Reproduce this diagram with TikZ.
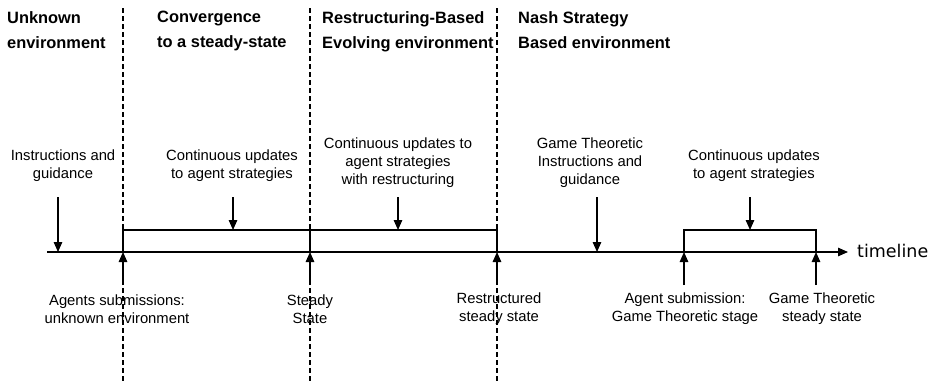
\documentclass[tikz,border=0pt]{standalone}
\usepackage{fontspec}
\setmainfont{Liberation Sans}
\newfontfamily\tlfont{DejaVu Sans}
\usetikzlibrary{arrows.meta}
\begin{document}
\begin{tikzpicture}[x=1pt,y=-1pt,
  line/.style={line width=1.3pt},
  tip/.style={-{Triangle[length=10pt,width=8.5pt]}},
  phase/.style={dash pattern=on 5pt off 3pt, line width=1.2pt},
  lbl/.style={align=center, inner sep=0pt, font=\fontsize{14.8}{18}\selectfont},
  head/.style={align=left, inner sep=0pt, anchor=north west, font=\fontsize{16.4}{25}\selectfont\bfseries}]
\useasboundingbox (0,0) rectangle (936,383);

% phase boundaries
\coordinate (p1top) at (123,8);   \coordinate (p1bot) at (123,383);
\coordinate (p2top) at (310,8);   \coordinate (p2bot) at (310,383);
\coordinate (p3top) at (497,8);   \coordinate (p3bot) at (497,383);
\draw[phase] (p1top) -- (p1bot);
\draw[phase] (p2top) -- (p2bot);
\draw[phase] (p3top) -- (p3bot);

% phase headings
\node[head] (h0) at (7,11)   {Unknown\\environment};
\node[head] (h1) at (157,11) {Convergence\\to a steady-state};
\node[head] (h2) at (322,11) {Restructuring-Based\\Evolving environment};
\node[head] (h3) at (518,11) {Nash Strategy\\Based environment};

% timeline
\coordinate (tlstart) at (47,252);
\coordinate (tlend) at (848,252);
\draw[line,tip] (tlstart) -- (tlend);
\node[anchor=west, inner sep=0pt, font=\tlfont\fontsize{17.5}{20}\selectfont] (tl) at (857,251) {timeline};

% events on the timeline
\coordinate (t1) at (123,252);
\coordinate (t2) at (310,252);
\coordinate (t3) at (497,252);
\coordinate (t4) at (684,252);
\coordinate (t5) at (816,252);
\coordinate (g0) at (58,252);
\coordinate (g1) at (597,252);

% update brackets
\coordinate (b1) at (123,230);
\coordinate (b2) at (310,230);
\coordinate (b3) at (497,230);
\coordinate (b4) at (684,230);
\coordinate (b5) at (816,230);
\draw[line] (t1) -- (b1) -- (b3) -- (t3);
\draw[line] (t2) -- (b2);
\draw[line] (t4) -- (b4) -- (b5) -- (t5);

% inputs from above
\coordinate (d0) at (58,197);  \coordinate (d1) at (233,197);
\coordinate (d2) at (398,197); \coordinate (d3) at (597,197);
\coordinate (d4) at (750,197);
\coordinate (c1) at (233,230); \coordinate (c2) at (398,230);
\coordinate (c4) at (750,230);
\draw[line,tip] (d0) -- (g0);
\draw[line,tip] (d1) -- (c1);
\draw[line,tip] (d2) -- (c2);
\draw[line,tip] (d3) -- (g1);
\draw[line,tip] (d4) -- (c4);

\node[lbl] (i0) at (63,166)  {Instructions and\\guidance};
\node[lbl] (i1) at (232,166) {Continuous updates\\to agent strategies};
\node[lbl] (i2) at (398,163) {Continuous updates to\\agent strategies\\with restructuring};
\node[lbl] (i3) at (590,163) {Game Theoretic\\Instructions and\\guidance};
\node[lbl] (i4) at (754,166) {Continuous updates\\to agent strategies};

% outcomes from below
\coordinate (u1) at (123,285); \coordinate (u2) at (310,285);
\coordinate (u3) at (497,285); \coordinate (u4) at (684,285);
\coordinate (u5) at (816,285);
\draw[line,tip] (u1) -- (t1);
\draw[line,tip] (u2) -- (t2);
\draw[line,tip] (u3) -- (t3);
\draw[line,tip] (u4) -- (t4);
\draw[line,tip] (u5) -- (t5);

\node[lbl] (o1) at (117,309) {Agents submissions:\\unknown environment};
\node[lbl] (o2) at (310,309) {Steady\\State};
\node[lbl] (o3) at (499,309) {Restructured\\steady state};
\node[lbl] (o4) at (685,309) {Agent submission:\\Game Theoretic stage};
\node[lbl] (o5) at (822,309) {Game Theoretic\\steady state};
\end{tikzpicture}
\end{document}
